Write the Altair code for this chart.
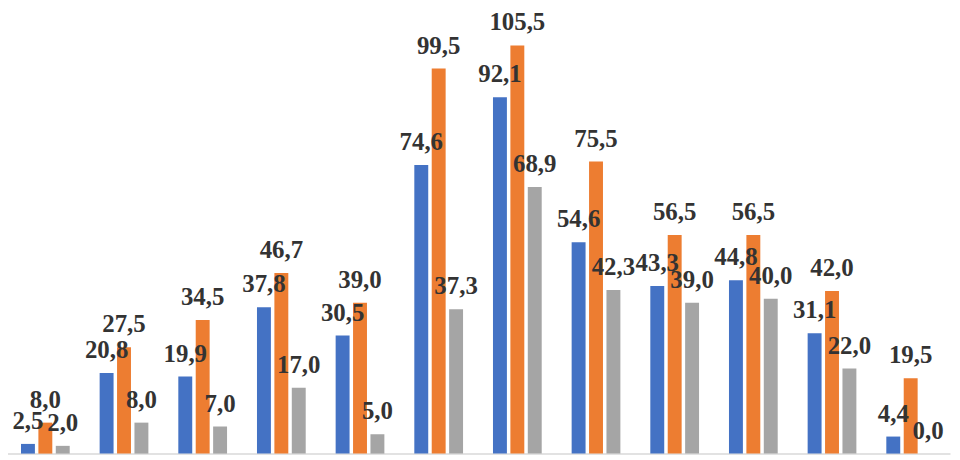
import altair as alt
import pandas as pd

groups = [str(i) for i in range(1, 13)]
series = ["A", "B", "C"]
blue = [2.5, 20.8, 19.9, 37.8, 30.5, 74.6, 92.1, 54.6, 43.3, 44.8, 31.1, 4.4]
orange = [8.0, 27.5, 34.5, 46.7, 39.0, 99.5, 105.5, 75.5, 56.5, 56.5, 42.0, 19.5]
gray = [2.0, 8.0, 7.0, 17.0, 5.0, 37.3, 68.9, 42.3, 39.0, 40.0, 22.0, 0.0]
colors = ["#4472C4", "#ED7D31", "#A5A5A5"]

rows = []
for s, vals in zip(series, [blue, orange, gray]):
    for g, v in zip(groups, vals):
        rows.append({"group": g, "series": s, "value": v})
dat = pd.DataFrame(rows)

x = alt.X("group:N", sort=groups,
          scale=alt.Scale(range=[-2, 948], paddingInner=0, paddingOuter=0),
          axis=alt.Axis(labels=False, ticks=False, title=None,
                        domainColor="#D9D9D9", domainWidth=1.5))
xo = alt.XOffset("series:N", sort=series,
                 scale=alt.Scale(paddingInner=0.2, paddingOuter=0.86))
y = alt.Y("value:Q", scale=alt.Scale(domain=[0, 114.8], nice=False, zero=True),
          axis=None)

base = alt.Chart(dat).encode(x=x, xOffset=xo, y=y)

bars = base.mark_bar().encode(
    color=alt.Color("series:N", sort=series,
                    scale=alt.Scale(domain=series, range=colors), legend=None)
)

# data labels, decimal comma
labels = base.transform_calculate(
    label="replace(format(datum.value, '.1f'), '.', ',')"
).mark_text(
    font="Liberation Serif", fontWeight="bold", fontSize=25,
    color="#333333", baseline="alphabetic", dy=-15
).encode(text="label:N")

chart = (bars + labels).properties(
    width=944, height=447, padding=0
).configure_view(stroke=None)

chart.save("out.html", embed_options={"renderer": "svg", "actions": False})
